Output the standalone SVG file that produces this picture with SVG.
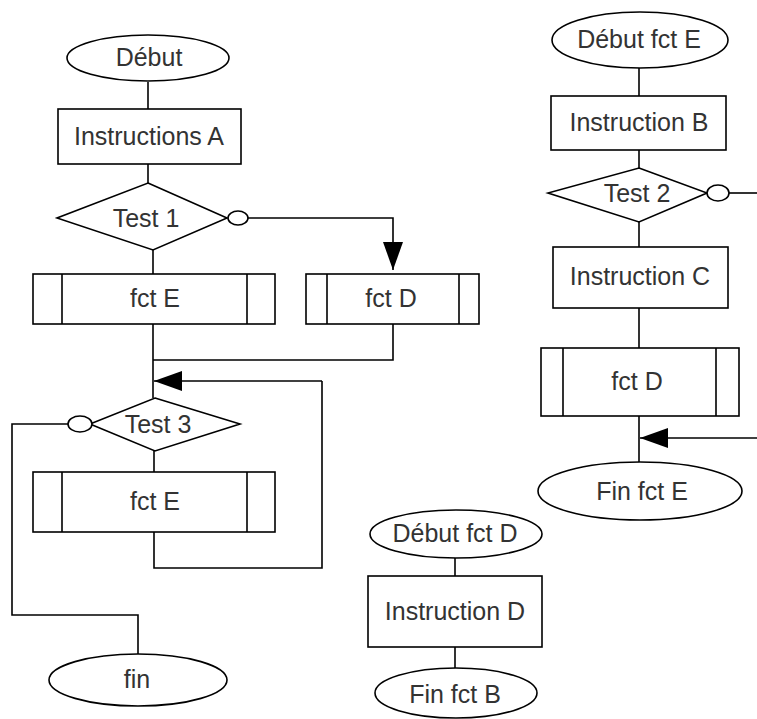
<svg xmlns="http://www.w3.org/2000/svg" width="757" height="719" viewBox="0 0 757 719">
<style>
.s{fill:#fff;stroke:#000;stroke-width:1.6}
.c{fill:none;stroke:#000;stroke-width:1.6}
.t{font-family:"Liberation Sans",Arial,sans-serif;font-size:25px;fill:#333;text-anchor:middle}
</style>
<defs>
<marker id="ah" viewBox="0 0 28 20" refX="28" refY="10" markerWidth="28" markerHeight="20" markerUnits="userSpaceOnUse" orient="auto">
<path d="M0,0 L28,10 L0,20 Z" fill="#000"/>
</marker>
</defs>
<rect width="757" height="719" fill="#fff"/>
<g id="connectors">
<path class="c" d="M148,82 V109"/>
<path class="c" d="M148,164 V183"/>
<path class="c" d="M153,250 V274"/>
<path class="c" d="M248,218 H393 V270" marker-end="url(#ah)"/>
<path class="c" d="M153,324 V398"/>
<path class="c" d="M393,324 V360 H153"/>
<path class="c" d="M322,381 H154" marker-end="url(#ah)"/>
<path class="c" d="M154,451 V472"/>
<path class="c" d="M154,532 V568 H322 V381"/>
<path class="c" d="M68,424 H12 V615 H138 V654"/>
<path class="c" d="M639,68 V96"/>
<path class="c" d="M639,150 V168"/>
<path class="c" d="M729,193 H757"/>
<path class="c" d="M639,222 V247"/>
<path class="c" d="M639,308 V348"/>
<path class="c" d="M639,416 V462"/>
<path class="c" d="M757,438 H640" marker-end="url(#ah)"/>
<path class="c" d="M455,558 V576"/>
<path class="c" d="M455,647 V668"/>
</g>
<g id="debut">
<ellipse class="s" cx="148" cy="58" rx="81" ry="23"/>
<text class="t" x="149" y="66">Début</text>
</g>
<g id="instructionsA">
<rect class="s" x="58" y="109" width="183" height="55"/>
<text class="t" x="149" y="145">Instructions A</text>
</g>
<g id="test1">
<polygon class="s" points="148,183 227,218 153,250 57,218"/>
<ellipse class="s" cx="238" cy="218" rx="10" ry="7"/>
<text class="t" x="146" y="227">Test 1</text>
</g>
<g id="fctE1">
<rect class="s" x="33" y="274" width="242" height="50"/>
<path class="c" d="M62,274 V324 M247,274 V324"/>
<text class="t" x="155" y="307">fct E</text>
</g>
<g id="fctD1">
<rect class="s" x="306" y="274" width="173" height="50"/>
<path class="c" d="M327,274 V324 M459,274 V324"/>
<text class="t" x="391" y="307">fct D</text>
</g>
<g id="test3">
<polygon class="s" points="155,398 240,424 155,451 90,424"/>
<ellipse class="s" cx="80" cy="424" rx="12" ry="8"/>
<text class="t" x="158" y="433">Test 3</text>
</g>
<g id="fctE2">
<rect class="s" x="33" y="472" width="242" height="60"/>
<path class="c" d="M62,472 V532 M247,472 V532"/>
<text class="t" x="155" y="510">fct E</text>
</g>
<g id="fin">
<ellipse class="s" cx="138" cy="680" rx="89" ry="26"/>
<text class="t" x="137" y="688">fin</text>
</g>
<g id="debutFctE">
<ellipse class="s" cx="640" cy="40" rx="88" ry="28"/>
<text class="t" x="639" y="48">Début fct E</text>
</g>
<g id="instructionB">
<rect class="s" x="551" y="96" width="175" height="54"/>
<text class="t" x="639" y="131">Instruction B</text>
</g>
<g id="test2">
<polygon class="s" points="639,168 707,193 639,222 548,193"/>
<ellipse class="s" cx="718" cy="193" rx="11" ry="8"/>
<text class="t" x="637" y="202">Test 2</text>
</g>
<g id="instructionC">
<rect class="s" x="553" y="247" width="175" height="61"/>
<text class="t" x="640" y="285">Instruction C</text>
</g>
<g id="fctD2">
<rect class="s" x="541" y="348" width="198" height="68"/>
<path class="c" d="M563,348 V416 M716,348 V416"/>
<text class="t" x="637" y="390">fct D</text>
</g>
<g id="finFctE">
<ellipse class="s" cx="640" cy="491" rx="102" ry="29"/>
<text class="t" x="642" y="500">Fin fct E</text>
</g>
<g id="debutFctD">
<ellipse class="s" cx="456" cy="534" rx="86" ry="24"/>
<text class="t" x="455" y="542">Début fct D</text>
</g>
<g id="instructionD">
<rect class="s" x="368" y="576" width="174" height="71"/>
<text class="t" x="455" y="620">Instruction D</text>
</g>
<g id="finFctD">
<ellipse class="s" cx="456" cy="693" rx="81" ry="25"/>
<text class="t" x="455" y="703">Fin fct B</text>
</g>
</svg>
